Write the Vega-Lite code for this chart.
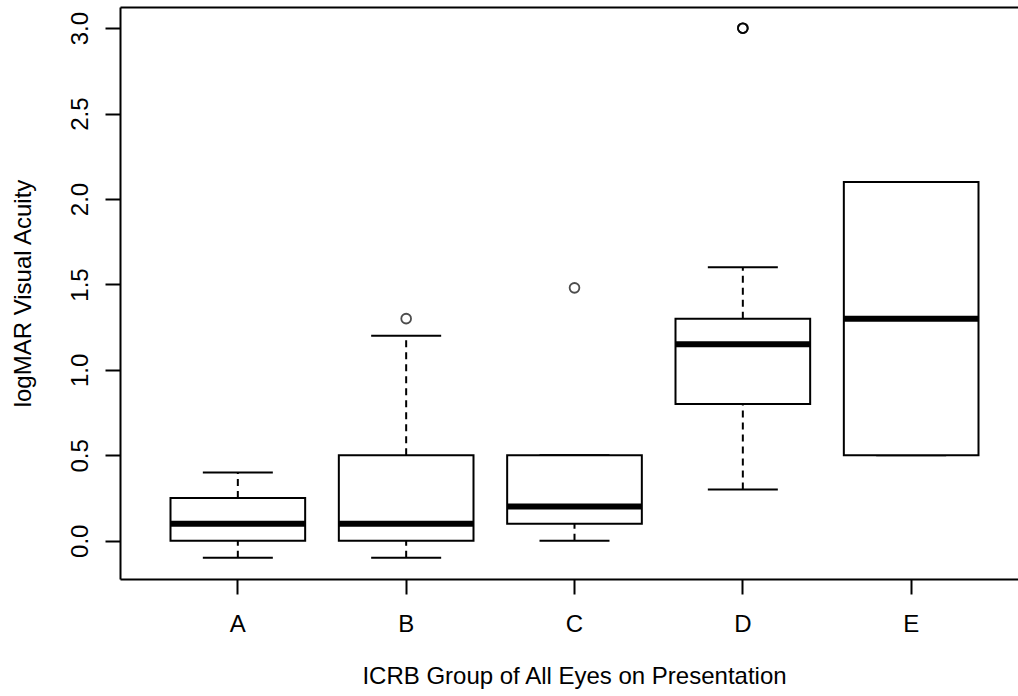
{
  "$schema": "https://vega.github.io/schema/vega-lite/v6.json",
  "width": 898,
  "height": 572,
  "autosize": "none",
  "padding": {"left": 120, "top": 7, "right": 0, "bottom": 117},
  "background": "white",
  "config": {
    "view": {"stroke": null},
    "font": "Liberation Sans",
    "axis": {
      "domainColor": "black",
      "domainWidth": 2,
      "tickColor": "black",
      "tickWidth": 2,
      "tickSize": 15,
      "grid": false,
      "labelColor": "black",
      "labelFont": "Liberation Sans",
      "labelFontSize": 24,
      "titleColor": "black",
      "titleFont": "Liberation Sans",
      "titleFontSize": 24,
      "titleFontWeight": "normal"
    }
  },
  "datasets": {
    "boxes": [
      {"group": "A", "lo": -0.1, "q1": 0.0, "med": 0.1, "q3": 0.25, "hi": 0.4},
      {"group": "B", "lo": -0.1, "q1": 0.0, "med": 0.1, "q3": 0.5, "hi": 1.2},
      {"group": "C", "lo": 0.0, "q1": 0.1, "med": 0.2, "q3": 0.5, "hi": 0.5},
      {"group": "D", "lo": 0.3, "q1": 0.8, "med": 1.15, "q3": 1.3, "hi": 1.6},
      {"group": "E", "lo": 0.5, "q1": 0.5, "med": 1.3, "q3": 2.1, "hi": 2.1}
    ],
    "outliers": [
      {"group": "B", "value": 1.3},
      {"group": "C", "value": 1.48},
      {"group": "D", "value": 3.0},
      {"group": "D", "value": 3.0},
      {"group": "D", "value": 3.0}
    ]
  },
  "layer": [
    {
      "data": {"name": "boxes"},
      "mark": {"type": "rule", "strokeDash": [7, 5], "strokeWidth": 2, "color": "black", "opacity": 1},
      "encoding": {
        "x": {
          "field": "group", "type": "nominal",
          "scale": {"type": "band", "domain": ["A", "B", "C", "D", "E"], "range": [0, 909], "paddingInner": 0.2, "paddingOuter": 0.3},
          "axis": {"orient": "bottom", "domain": true, "labelAngle": 0, "labelBaseline": "alphabetic", "labelPadding": 37,
                   "title": "ICRB Group of All Eyes on Presentation", "titleBaseline": "alphabetic", "titleX": 454, "titleY": 104, "titleAnchor": "middle", "titleAlign": "center"}
        },
        "y": {
          "field": "q3", "type": "quantitative",
          "scale": {"domain": [-0.224, 3.124], "nice": false, "zero": false},
          "axis": {"orient": "left", "values": [0, 0.5, 1, 1.5, 2, 2.5, 3], "format": ".1f",
                   "labelAngle": 270, "labelAlign": "center", "labelBaseline": "alphabetic", "labelPadding": 18,
                   "title": "logMAR Visual Acuity", "titleAngle": 270, "titleBaseline": "alphabetic", "titleAlign": "center", "titleX": -90, "titleY": 286}
        },
        "y2": {"field": "hi"}
      }
    },
    {
      "data": {"name": "boxes"},
      "mark": {"type": "rule", "strokeDash": [7, 5], "strokeWidth": 2, "color": "black", "opacity": 1},
      "encoding": {
        "x": {"field": "group", "type": "nominal", "axis": null},
        "y": {"field": "lo", "type": "quantitative"},
        "y2": {"field": "q1"}
      }
    },
    {
      "data": {"name": "boxes"},
      "mark": {"type": "tick", "size": 70, "thickness": 2, "color": "black", "opacity": 1},
      "encoding": {
        "x": {"field": "group", "type": "nominal", "axis": null},
        "y": {"field": "hi", "type": "quantitative"}
      }
    },
    {
      "data": {"name": "boxes"},
      "mark": {"type": "tick", "size": 70, "thickness": 2, "color": "black", "opacity": 1},
      "encoding": {
        "x": {"field": "group", "type": "nominal", "axis": null},
        "y": {"field": "lo", "type": "quantitative"}
      }
    },
    {
      "data": {"name": "boxes"},
      "mark": {"type": "rect", "fill": "white", "stroke": "black", "strokeWidth": 2, "opacity": 1},
      "encoding": {
        "x": {"field": "group", "type": "nominal", "axis": null},
        "y": {"field": "q1", "type": "quantitative"},
        "y2": {"field": "q3"}
      }
    },
    {
      "data": {"name": "boxes"},
      "mark": {"type": "tick", "size": 135, "thickness": 6, "color": "black", "opacity": 1},
      "encoding": {
        "x": {"field": "group", "type": "nominal",
              "axis": {"orient": "top", "domain": true, "ticks": false, "labels": false, "title": null}},
        "y": {"field": "med", "type": "quantitative"}
      }
    },
    {
      "data": {"name": "outliers"},
      "mark": {"type": "point", "shape": "circle", "filled": false, "size": 95, "stroke": "black", "strokeWidth": 1.8, "opacity": 1, "strokeOpacity": 0.7},
      "encoding": {
        "x": {"field": "group", "type": "nominal", "axis": null},
        "y": {"field": "value", "type": "quantitative"}
      }
    }
  ],
  "resolve": {"axis": {"x": "independent"}}
}
